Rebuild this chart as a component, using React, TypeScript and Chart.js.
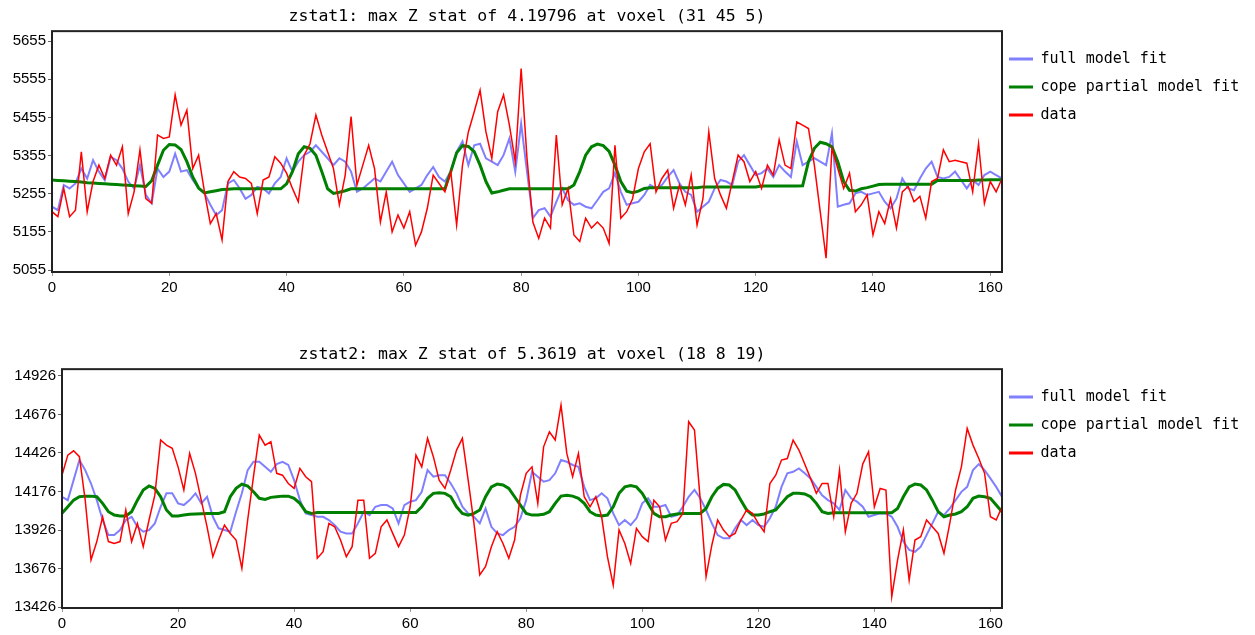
import React, { useEffect, useRef } from "react";
import { Chart, registerables } from "chart.js";
Chart.register(...registerables);

// ---------- DATA ----------
const timePoints: number[] = Array.from({ length: 163 }, (_, i) => i);
const xTickValues = [0, 20, 40, 60, 80, 100, 120, 140, 160];
const seriesNames = ["full model fit", "cope partial model fit", "data"];

const topTitle = "zstat1: max Z stat of 4.19796 at voxel (31 45 5)";
const topYTicks = [5055, 5155, 5255, 5355, 5455, 5555, 5655];
const topYRange = [5050, 5681];

const topFull = [
  5221,5212,5278,5269,5282,5321,5295,5343,5313,5291,
  5352,5343,5321,5287,5269,5330,5252,5230,5321,5299,
  5313,5360,5313,5317,5291,5269,5256,5226,5199,5212,
  5282,5291,5269,5242,5252,5273,5269,5256,5282,5299,
  5348,5313,5339,5356,5365,5382,5365,5348,5330,5348,
  5339,5313,5260,5269,5282,5295,5287,5313,5339,5304,
  5282,5260,5269,5278,5304,5325,5299,5287,5313,5365,
  5392,5330,5382,5386,5348,5339,5330,5356,5400,5313,
  5439,5313,5191,5212,5217,5195,5234,5269,5238,5226,
  5230,5221,5217,5238,5260,5269,5309,5260,5226,5230,
  5234,5252,5278,5269,5278,5299,5317,5282,5260,5252,
  5208,5221,5234,5269,5291,5287,5278,5339,5356,5330,
  5304,5309,5321,5299,5330,5313,5299,5392,5330,5339,
  5348,5339,5330,5413,5221,5226,5230,5256,5260,5252,
  5256,5260,5234,5217,5242,5295,5269,5264,5295,5321,
  5339,5299,5295,5299,5313,5291,5269,5291,5278,5304,
  5313,5304,5295,
];
const topCope = [
  5291,5290,5289,5288,5287,5286,5284,5283,5282,5281,
  5280,5279,5278,5277,5276,5275,5274,5289,5330,5369,
  5384,5383,5371,5339,5299,5270,5257,5260,5263,5266,
  5267,5268,5268,5268,5268,5268,5268,5268,5268,5268,
  5281,5313,5360,5378,5374,5356,5313,5268,5256,5259,
  5263,5268,5268,5268,5268,5268,5268,5268,5268,5268,
  5268,5268,5268,5268,5268,5268,5268,5268,5313,5362,
  5381,5379,5365,5330,5287,5257,5260,5264,5268,5268,
  5268,5268,5268,5268,5268,5268,5268,5268,5268,5278,
  5313,5356,5378,5385,5381,5366,5330,5287,5262,5258,
  5262,5269,5271,5271,5271,5271,5271,5271,5271,5271,
  5271,5273,5273,5273,5273,5273,5273,5273,5273,5273,
  5273,5275,5275,5275,5275,5275,5275,5275,5276,5339,
  5374,5390,5386,5378,5339,5287,5264,5262,5268,5271,
  5275,5279,5280,5280,5280,5280,5280,5280,5280,5280,
  5280,5290,5290,5290,5290,5290,5290,5290,5291,5291,
  5292,5292,5292,
];
const topData = [
  5208,5195,5269,5195,5212,5365,5208,5287,5330,5295,
  5356,5330,5378,5203,5260,5370,5242,5230,5409,5400,
  5404,5514,5435,5474,5321,5356,5260,5177,5203,5134,
  5287,5313,5299,5295,5282,5203,5291,5299,5352,5335,
  5309,5269,5234,5356,5386,5461,5409,5365,5321,5226,
  5304,5457,5278,5330,5382,5321,5181,5260,5155,5199,
  5165,5208,5120,5155,5217,5304,5282,5260,5313,5173,
  5330,5417,5470,5526,5417,5348,5470,5514,5435,5339,
  5583,5348,5181,5138,5191,5165,5409,5226,5269,5147,
  5130,5191,5165,5181,5165,5125,5382,5191,5208,5242,
  5321,5365,5386,5260,5295,5317,5217,5278,5226,5304,
  5173,5242,5417,5295,5252,5217,5287,5356,5339,5287,
  5313,5269,5330,5304,5396,5330,5321,5443,5435,5426,
  5330,5208,5086,5374,5321,5269,5309,5208,5226,5252,
  5147,5208,5177,5242,5165,5260,5274,5234,5248,5191,
  5287,5295,5370,5339,5343,5339,5335,5260,5386,5230,
  5287,5260,5295,
];

const bottomTitle = "zstat2: max Z stat of 5.3619 at voxel (18 8 19)";
const bottomYTicks = [13426, 13676, 13926, 14176, 14426, 14676, 14926];
const bottomYRange = [13420, 14970];

const bottomFull = [
  14142,14120,14250,14380,14315,14228,14120,13991,13893,13893,
  13926,13991,14012,13947,13915,13926,13969,14077,14164,14164,
  14099,14088,14120,14164,14099,14142,14012,13937,13926,13915,
  14045,14164,14315,14369,14369,14336,14304,14354,14369,14348,
  14250,14120,14034,14023,14012,14012,13991,13958,13915,13904,
  13904,13969,14045,14023,14077,14088,14088,14066,13969,14088,
  14110,14120,14174,14315,14272,14282,14282,14228,14164,14077,
  14034,14012,13969,14066,13947,13904,13893,13926,13947,14002,
  14120,14304,14272,14240,14250,14294,14380,14369,14348,14336,
  14206,14120,14132,14164,14132,14034,13958,13991,13958,14002,
  14099,14132,14077,14077,14088,14012,14023,14077,14142,14186,
  14132,14056,13969,13893,13872,13872,13937,13991,13958,13991,
  13958,13947,14002,14077,14206,14294,14304,14326,14294,14261,
  14206,14152,14120,14099,14056,14186,14132,14110,14077,14012,
  14023,14034,14034,14012,13947,13851,13797,13785,13818,13893,
  13969,14045,14023,14066,14120,14174,14206,14315,14354,14315,
  14261,14206,14142,
];
const bottomCope = [
  14034,14077,14120,14142,14146,14146,14142,14099,14045,14023,
  14017,14017,14045,14120,14186,14212,14196,14142,14056,14017,
  14017,14023,14028,14030,14032,14034,14034,14034,14045,14142,
  14196,14224,14212,14174,14132,14124,14138,14142,14146,14146,
  14132,14099,14045,14034,14040,14040,14040,14040,14040,14040,
  14040,14040,14040,14040,14040,14040,14040,14040,14040,14040,
  14040,14040,14077,14132,14164,14168,14164,14142,14077,14034,
  14023,14034,14056,14142,14206,14224,14218,14196,14142,14088,
  14034,14023,14023,14028,14045,14099,14146,14152,14146,14132,
  14099,14045,14023,14017,14023,14077,14164,14206,14214,14206,
  14164,14099,14034,14012,14012,14023,14030,14034,14034,14034,
  14034,14066,14142,14196,14222,14218,14186,14120,14056,14023,
  14023,14030,14045,14056,14099,14142,14164,14164,14160,14142,
  14099,14045,14034,14038,14038,14038,14038,14038,14038,14038,
  14038,14038,14038,14038,14066,14142,14206,14224,14218,14186,
  14120,14045,14012,14023,14030,14045,14077,14132,14146,14142,
  14132,14088,14045,
];
const bottomData = [
  14282,14412,14440,14402,14120,13731,13851,14012,13851,13839,
  13851,14056,13851,13969,13818,13991,14152,14510,14477,14456,
  14336,14186,14423,14294,14120,13947,13753,13861,13958,13904,
  13861,13677,13991,14272,14542,14477,14499,14294,14282,14228,
  14196,14326,14272,14240,13743,13785,13969,13947,13861,13753,
  13818,14120,14120,13743,13775,13947,13991,13904,13818,13893,
  14077,14412,14336,14521,14402,14250,14196,14315,14445,14521,
  14250,13969,13634,13689,13818,13915,13839,13743,13861,14152,
  14294,14336,14099,14466,14564,14510,14737,14423,14272,14423,
  14142,14077,14142,14012,13753,13569,13926,13839,13709,13937,
  13883,13851,14120,14077,13861,13969,13980,14034,14629,14575,
  14120,13623,13829,13991,13926,13883,13904,13991,14056,14034,
  13969,13915,14228,14282,14380,14390,14510,14445,14354,14261,
  14164,14228,14228,14012,14315,13915,14099,14164,14354,14434,
  14077,14196,14186,13494,13731,13926,13601,13861,13883,13991,
  13947,13904,13775,13969,14186,14336,14585,14477,14390,14294,
  14012,13991,14077,
];

// ---------- STYLE ----------
const colors = ["rgb(128,128,255)", "#008000", "#ff0000"];
const widths = [2, 3, 1.5];
const monoFont = "'DejaVu Sans Mono', 'Liberation Mono', monospace";
const tickFont = "'Liberation Sans', Arial, sans-serif";

const panelPlugin = {
  id: "panelFrameLegend",
  afterLayout(chart: any) {
    const lg = chart.legend;
    if (lg) {
      const pad = lg.options.labels.padding;
      lg.left = 1009 - pad;
      lg.top = 51.5 - pad;
      lg.right = 1255;
      lg.bottom = lg.top + 150;
    }
  },
  afterDraw(chart: any) {
    const { ctx, chartArea: a } = chart;
    ctx.save();
    ctx.strokeStyle = "#222";
    ctx.lineWidth = 2;
    ctx.strokeRect(a.left, a.top, a.right - a.left, a.bottom - a.top);
    ctx.restore();
  },
};

function makeConfig(
  title: string,
  yTicks: number[],
  yRange: number[],
  full: number[],
  cope: number[],
  data: number[],
  yAxisWidth: number,
  xAxisHeight: number
): any {
  const series = [full, cope, data];
  return {
    type: "line",
    data: {
      labels: timePoints,
      datasets: series.map((s, i) => ({
        label: seriesNames[i],
        data: s,
        borderColor: colors[i],
        backgroundColor: colors[i],
        borderWidth: widths[i],
        pointRadius: 0,
        tension: 0,
        fill: false,
        order: 2 - i,
      })),
    },
    options: {
      responsive: false,
      animation: false,
      devicePixelRatio: 1,
      layout: { padding: { left: 0, right: 253, top: 0, bottom: 0 } },
      plugins: {
        tooltip: { enabled: false },
        title: {
          display: true,
          fullSize: false,
          text: title,
          color: "#000",
          font: { family: monoFont, size: 16.5, weight: "normal", lineHeight: 1.1 },
          padding: { top: 8, bottom: 5 },
        },
        legend: {
          display: true,
          position: "chartArea",
          align: "start",
          labels: {
            color: "#000",
            font: { family: monoFont, size: 15 },
            boxWidth: 24,
            boxHeight: 3,
            padding: 13,
            sort: (a: any, b: any) => a.datasetIndex - b.datasetIndex,
            generateLabels: (chart: any) => {
              const items = (Chart as any).defaults.plugins.legend.labels.generateLabels(chart);
              items.forEach((it: any) => {
                it.fillStyle = colors[it.datasetIndex];
                it.strokeStyle = colors[it.datasetIndex];
                it.lineWidth = 0;
              });
              return items;
            },
          },
        },
      },
      scales: {
        x: {
          type: "linear",
          min: timePoints[0],
          max: timePoints[timePoints.length - 1],
          afterBuildTicks: (s: any) => {
            s.ticks = xTickValues.map((v) => ({ value: v }));
          },
          afterFit: (s: any) => {
            s.height = xAxisHeight;
          },
          ticks: {
            color: "#000",
            font: { family: tickFont, size: 15 },
            padding: 3,
            maxRotation: 0,
            callback: (v: any) => String(v),
          },
          grid: { drawOnChartArea: false, drawTicks: true, tickLength: 4, color: "#999" },
          border: { display: false },
        },
        y: {
          type: "linear",
          min: yRange[0],
          max: yRange[1],
          afterBuildTicks: (s: any) => {
            s.ticks = yTicks.map((v) => ({ value: v }));
          },
          afterFit: (s: any) => {
            s.width = yAxisWidth;
          },
          ticks: {
            color: "#000",
            font: { family: tickFont, size: 15 },
            padding: 2,
            callback: (v: any) => String(v),
          },
          grid: { drawOnChartArea: false, drawTicks: true, tickLength: 4, color: "#666" },
          border: { display: false },
        },
      },
    },
    plugins: [panelPlugin],
  };
}

function Panel({ config, top, height }: { config: () => any; top: number; height: number }) {
  const ref = useRef<HTMLCanvasElement>(null);
  useEffect(() => {
    if (!ref.current) return;
    const chart = new Chart(ref.current, config());
    return () => chart.destroy();
  }, []);
  return (
    <canvas
      ref={ref}
      width={1255}
      height={height}
      style={{ position: "absolute", left: 0, top, width: 1255, height }}
    />
  );
}

export default function App() {
  return (
    <div style={{ position: "fixed", left: 0, top: 0, width: 1255, height: 635, background: "#fff" }}>
      <Panel
        top={0}
        height={300}
        config={() =>
          makeConfig(topTitle, topYTicks, topYRange, topFull, topCope, topData, 52, 28)
        }
      />
      <Panel
        top={338}
        height={297}
        config={() =>
          makeConfig(bottomTitle, bottomYTicks, bottomYRange, bottomFull, bottomCope, bottomData, 62, 27)
        }
      />
    </div>
  );
}
